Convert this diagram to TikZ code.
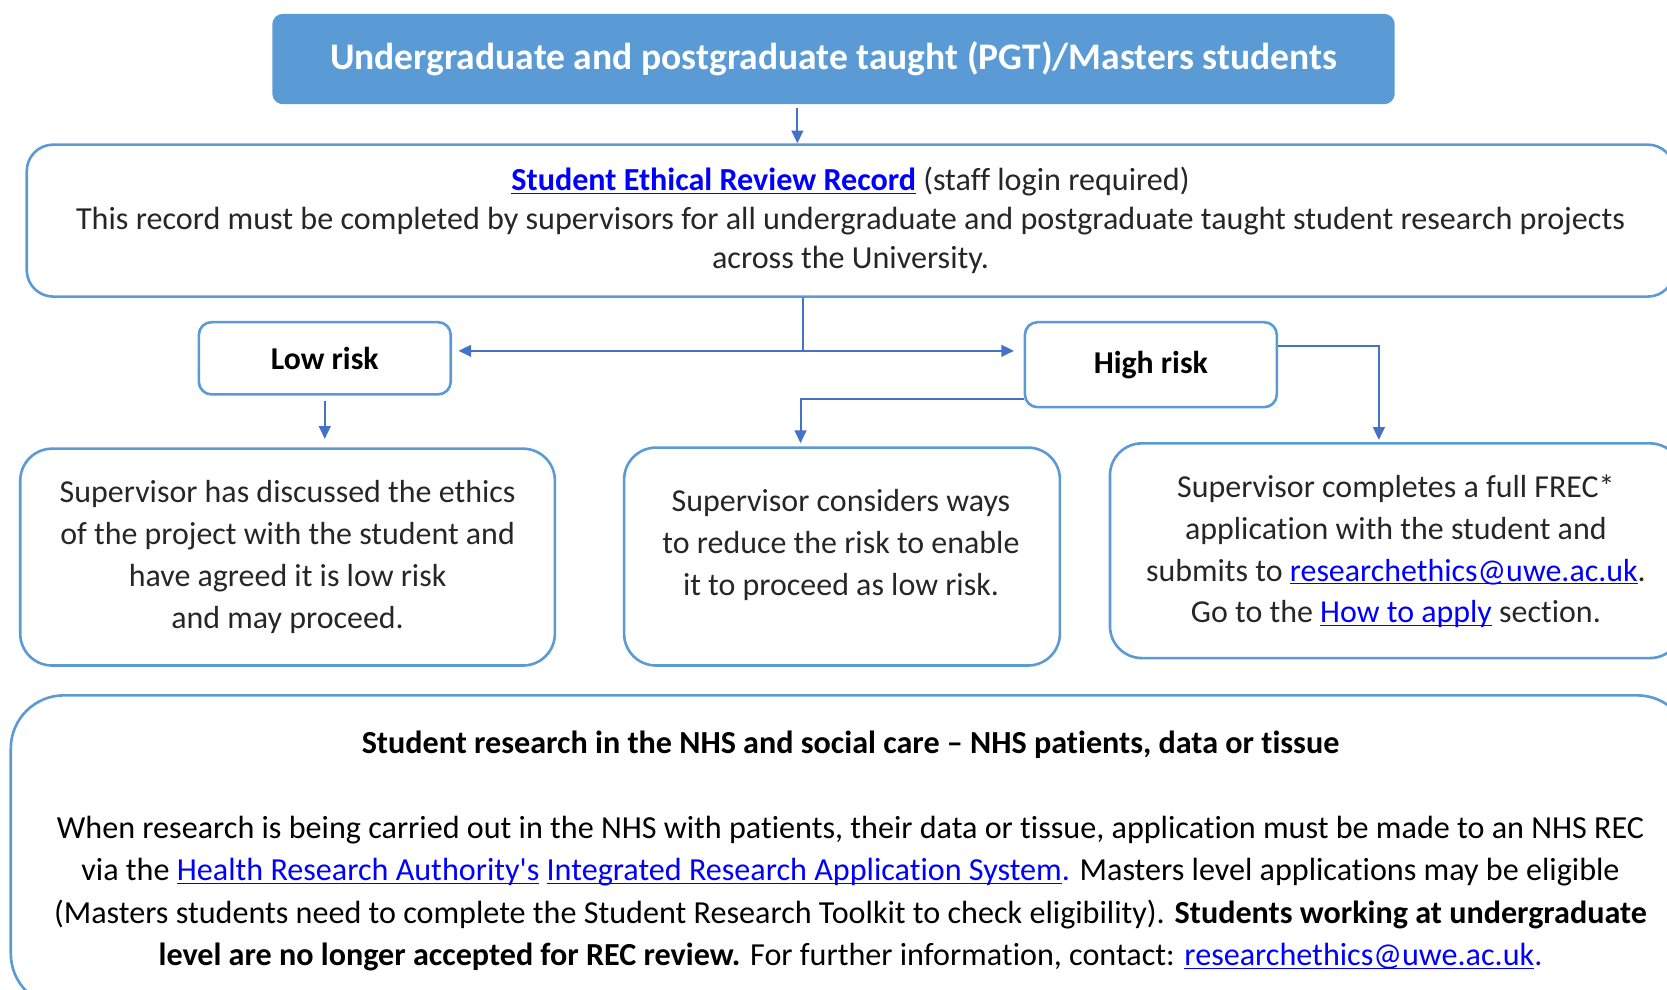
\documentclass[tikz,border=0pt]{standalone}
\usepackage{fontspec}
\setmainfont{Carlito}[Ligatures={TeX,NoCommon}]
\usepackage{tikz}
\usetikzlibrary{positioning}
\usetikzlibrary{arrows.meta}
\usepackage{xcolor}

\definecolor{boxblue}{RGB}{91,155,213}
\definecolor{arrowblue}{RGB}{68,114,196}
\definecolor{linkblue}{RGB}{0,0,255}
\definecolor{textgrey}{RGB}{38,38,38}
\newcommand{\weblink}[1]{{\color{linkblue}\underline{\smash{#1}}}}

\begin{document}
\begin{tikzpicture}[x=0.02cm, y=-0.02cm,
		box/.style={draw=boxblue, line width=1.4pt, rounded corners=0.6cm, align=center, inner sep=0pt},
		riskbox/.style={box, rounded corners=0.24cm, minimum width=4.74cm, font=\fontsize{17}{21}\selectfont\bfseries},
		bodytext/.style={text=textgrey, font=\fontsize{17.1}{22.4}\selectfont},
		arr/.style={arrowblue, line width=1.1pt, -{Triangle[width=0.22cm, length=0.24cm]}},
		conn/.style={arrowblue, line width=1.1pt}]
	\useasboundingbox (0,0) rectangle (1568,931);
	% boxes
	\node[fill=boxblue, rounded corners=0.2cm, minimum width=21.12cm, minimum height=1.7cm, text=white, font=\fontsize{20.1}{24}\selectfont\bfseries] (students) at (784,55.5) {Undergraduate and postgraduate taught (PGT)/Masters students};
	\node[box, rounded corners=0.5cm, minimum width=31cm, minimum height=2.86cm, text=textgrey, font=\fontsize{17.2}{21}\selectfont] (record) at (800,207.5) {\weblink{\textbf{Student Ethical Review Record}} (staff login required)\\This record must be completed by supervisors for all undergraduate and postgraduate taught student research projects\\across the University.};
	\node[riskbox, minimum height=1.36cm] (low) at (305.5,337) {Low risk};
	\node[riskbox, minimum height=1.6cm] (high) at (1082.5,343) {High risk};
	\node[box, bodytext, minimum width=10.06cm, minimum height=4.08cm] (lowbox) at (270.5,524) {Supervisor has discussed the ethics\\of the project with the student and\\have agreed it is low risk\\and may proceed.};
	\node[box, minimum width=8.2cm, minimum height=4.1cm] (reducebox) at (792,523.5) {};
	\node[bodytext, align=center, inner sep=0pt] (reducetext) at (791,512.5) {Supervisor considers ways\\to reduce the risk to enable\\it to proceed as low risk.};
	\node[box, bodytext, minimum width=10.76cm, minimum height=4.04cm] (frecbox) at (1313,518) {Supervisor completes a full FREC*\\application with the student and\\submits to \weblink{researchethics@uwe.ac.uk}.\\Go to the \weblink{How to apply} section.};
	\node[box, rounded corners=1cm, minimum width=31.6cm, minimum height=5.86cm, font=\fontsize{17.2}{22.7}\selectfont] (nhs) at (800,800.5) {\textbf{Student research in the NHS and social care -- NHS patients, data or tissue}\\[0.8cm]
		When research is being carried out in the NHS with patients, their data or tissue, application must be made to an NHS REC\\
		via the \weblink{Health Research Authority\textquotesingle s} \weblink{Integrated Research Application System}{\color{linkblue}.} Masters level applications may be eligible\\
		(Masters students need to complete the Student Research Toolkit to check eligibility). \textbf{Students working at undergraduate}\\
		\textbf{level are no longer accepted for REC review.} For further information, contact: \weblink{researchethics@uwe.ac.uk}{\color{linkblue}.}};
	% connectors
	\draw[arr] ([xshift=-0.68cm, yshift=-0.06cm]students.south) -- ([xshift=-0.68cm]students.south |- record.north);
	\coordinate (split) at (755,330);
	\draw[conn] (record.south -| split) -- (split);
	\draw[arr] (split) -- ([xshift=0.12cm]split -| low.east);
	\draw[arr] (split) -- ([xshift=-0.18cm]split -| high.west);
	\draw[arr] ([yshift=-0.1cm]low.south) -- ([yshift=0.16cm]low.south |- lowbox.north);
	\coordinate (reducebend) at (753,375);
	\draw[arr] (high.west |- reducebend) -- (reducebend) -- ([yshift=0.06cm]reducebend |- reducebox.north);
	\coordinate (frecbend) at (1297,325);
	\draw[arr] (high.east |- frecbend) -- (frecbend) -- ([yshift=0.04cm]frecbend |- frecbox.north);
\end{tikzpicture}
\end{document}
